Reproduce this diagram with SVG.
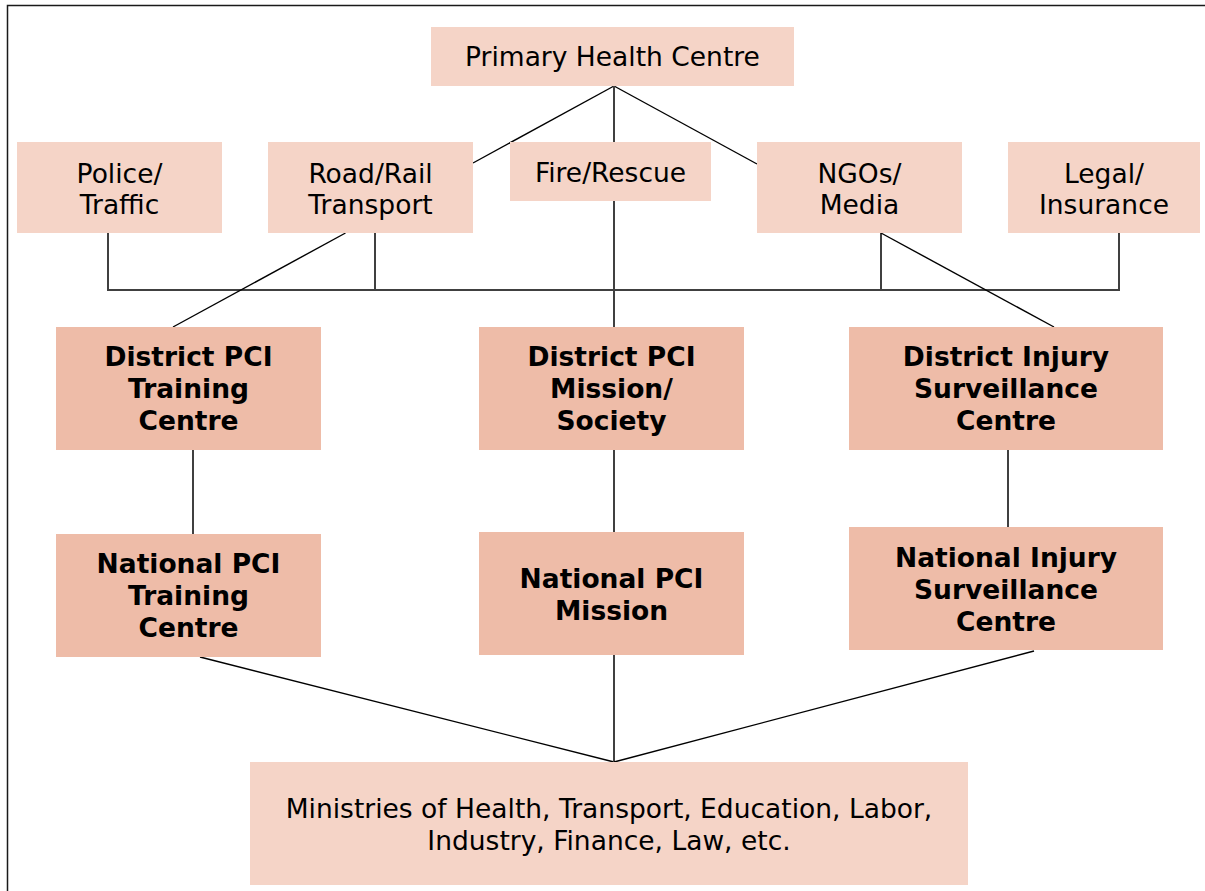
<svg xmlns="http://www.w3.org/2000/svg" width="1205" height="891" viewBox="0 0 1205 891">
<style>
.lt{fill:#F5D4C7}
.dk{fill:#EEBCA8}
.t{font-family:"DejaVu Sans",Verdana,sans-serif;font-size:26.5px;fill:#000;text-anchor:middle}
.b{font-weight:bold}
.g{stroke:#404040;stroke-width:2;fill:none}
.d{stroke:#000;stroke-width:1.4;fill:none}
</style>
<rect x="0" y="0" width="1205" height="891" fill="#fff"/>
<rect x="7.5" y="5.5" width="1300" height="1000" fill="none" stroke="#1a1a1a" stroke-width="1.5"/>
<g id="connectors">
<line class="d" x1="614" y1="86" x2="473" y2="163"/>
<line class="d" x1="614" y1="86" x2="757" y2="164"/>
<line class="g" x1="614" y1="86" x2="614" y2="142"/>
<line class="g" x1="614" y1="201" x2="614" y2="327"/>
<polyline class="g" points="108,233 108,290 1119,290 1119,233"/>
<line class="g" x1="375" y1="233" x2="375" y2="290"/>
<line class="g" x1="881" y1="233" x2="881" y2="290"/>
<line class="d" x1="345.5" y1="233" x2="173" y2="327"/>
<line class="d" x1="881" y1="233" x2="1054" y2="327"/>
<line class="g" x1="193" y1="450" x2="193" y2="534"/>
<line class="g" x1="614" y1="450" x2="614" y2="532"/>
<line class="g" x1="1008" y1="450" x2="1008" y2="527"/>
<line class="d" x1="200" y1="657" x2="614" y2="762"/>
<line class="g" x1="614" y1="655" x2="614" y2="762"/>
<line class="d" x1="1034" y1="651" x2="614" y2="762"/>
</g>
<g id="phc"><rect class="lt" x="431" y="27" width="363" height="59"/><text class="t" x="612.5" y="66">Primary Health Centre</text></g>
<g id="police"><rect class="lt" x="17" y="142" width="205" height="91"/><text class="t" x="119.5" y="183">Police/</text><text class="t" x="119.5" y="213.5">Traffic</text></g>
<g id="road"><rect class="lt" x="268" y="142" width="205" height="91"/><text class="t" x="370.5" y="183">Road/Rail</text><text class="t" x="370.5" y="213.5">Transport</text></g>
<g id="fire"><rect class="lt" x="510" y="142" width="201" height="59"/><text class="t" x="610.5" y="182">Fire/Rescue</text></g>
<g id="ngos"><rect class="lt" x="757" y="142" width="205" height="91"/><text class="t" x="859.5" y="183">NGOs/</text><text class="t" x="859.5" y="213.5">Media</text></g>
<g id="legal"><rect class="lt" x="1008" y="142" width="192" height="91"/><text class="t" x="1104" y="183">Legal/</text><text class="t" x="1104" y="213.5">Insurance</text></g>
<g id="dtc"><rect class="dk" x="56" y="327" width="265" height="123"/><text class="t b" x="188.5" y="366">District PCI</text><text class="t b" x="188.5" y="398">Training</text><text class="t b" x="188.5" y="430">Centre</text></g>
<g id="dms"><rect class="dk" x="479" y="327" width="265" height="123"/><text class="t b" x="611.5" y="366">District PCI</text><text class="t b" x="611.5" y="398">Mission/</text><text class="t b" x="611.5" y="430">Society</text></g>
<g id="disc"><rect class="dk" x="849" y="327" width="314" height="123"/><text class="t b" x="1006" y="366">District Injury</text><text class="t b" x="1006" y="398">Surveillance</text><text class="t b" x="1006" y="430">Centre</text></g>
<g id="ntc"><rect class="dk" x="56" y="534" width="265" height="123"/><text class="t b" x="188.5" y="573">National PCI</text><text class="t b" x="188.5" y="605">Training</text><text class="t b" x="188.5" y="637">Centre</text></g>
<g id="nm"><rect class="dk" x="479" y="532" width="265" height="123"/><text class="t b" x="611.5" y="588">National PCI</text><text class="t b" x="611.5" y="620">Mission</text></g>
<g id="nisc"><rect class="dk" x="849" y="527" width="314" height="123"/><text class="t b" x="1006" y="567">National Injury</text><text class="t b" x="1006" y="599">Surveillance</text><text class="t b" x="1006" y="631">Centre</text></g>
<g id="ministries"><rect class="lt" x="250" y="762" width="718" height="123"/><text class="t" x="609" y="818">Ministries of Health, Transport, Education, Labor,</text><text class="t" x="609" y="850">Industry, Finance, Law, etc.</text></g>
</svg>
